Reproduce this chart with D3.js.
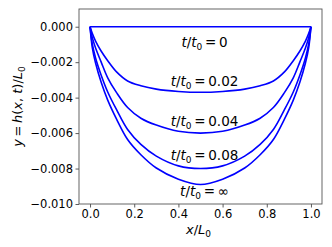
<!DOCTYPE html>
<html>
<head>
<meta charset="utf-8">
<script src="https://cdn.jsdelivr.net/npm/d3@7"></script>
<style>
  body { margin: 0; background: #fff; }
  svg { display: block; font-family: "DejaVu Sans", sans-serif; }
</style>
</head>
<body>
<svg id="chart" width="332" height="247"></svg>
<script>
// profile h(x,t)/L0, symmetric about x = 0.5
var xs = [0, 0.01, 0.025, 0.05, 0.08, 0.12, 0.17, 0.23, 0.3, 0.4, 0.5,
          0.6, 0.7, 0.77, 0.83, 0.88, 0.92, 0.95, 0.975, 0.99, 1];

var h_t0 = [0, 0, 0, 0, 0, 0, 0, 0, 0, 0, 0, 0, 0, 0, 0, 0, 0, 0, 0, 0, 0];
var h_t002 = [0, -0.00037, -0.00081, -0.00137, -0.00192, -0.00255, -0.00306, -0.00333, -0.00352, -0.00365, -0.0037,
              -0.00365, -0.00352, -0.00333, -0.00306, -0.00255, -0.00192, -0.00137, -0.00081, -0.00037, 0];
var h_t004 = [0, -0.0006, -0.0012, -0.00198, -0.00288, -0.00372, -0.00456, -0.00516, -0.00555, -0.0059, -0.006,
              -0.0059, -0.00555, -0.00516, -0.00456, -0.00372, -0.00288, -0.00198, -0.0012, -0.0006, 0];
var h_t008 = [0, -0.00096, -0.00176, -0.00272, -0.00368, -0.00468, -0.0058, -0.00664, -0.0073, -0.00785, -0.008,
              -0.00785, -0.0073, -0.00664, -0.0058, -0.00468, -0.00368, -0.00272, -0.00176, -0.00096, 0];
var h_tinf = [0, -0.00116, -0.00205, -0.00312, -0.00414, -0.00521, -0.00636, -0.00722, -0.00797, -0.0086, -0.0089,
              -0.0086, -0.00797, -0.00722, -0.00636, -0.00521, -0.00414, -0.00312, -0.00205, -0.00116, 0];

var series = [h_t0, h_t002, h_t004, h_t008, h_tinf];

// curve labels: text after "t/t0 = " and the y they sit at
var label_vals = ["0", "0.02", "0.04", "0.08", "\u221e"];
var label_y = [-0.00085, -0.00305, -0.00531, -0.00723, -0.00927];

var x_ticks = [0, 0.2, 0.4, 0.6, 0.8, 1.0];
var y_ticks = [0, -0.002, -0.004, -0.006, -0.008, -0.010];

//// LAYOUT ////////////////////////////////////////////////////////////////////

var plot_left = 79, plot_right = 322, plot_top = 9, plot_bottom = 204;
var svg = d3.select("#chart");

var x = d3.scaleLinear().domain([-0.05, 1.05]).range([plot_left, plot_right]);
var y = d3.scaleLinear().domain([-0.010, 0.001]).range([plot_bottom, plot_top]);

var line = d3.line()
    .x(function(d, i) { return x(xs[i]); })
    .y(function(d) { return y(d); })
    .curve(d3.curveCatmullRom.alpha(0.5));

svg.selectAll("path.curve")
    .data(series)
  .enter().append("path")
    .attr("class", "curve")
    .attr("d", line)
    .attr("fill", "none")
    .attr("stroke", "#0000ff")
    .attr("stroke-width", 1.6);

//// AXES //////////////////////////////////////////////////////////////////////

var xAxis = svg.append("g")
    .attr("transform", "translate(0," + plot_bottom + ")")
    .call(d3.axisBottom(x).tickValues(x_ticks).tickFormat(d3.format(".1f")).tickSizeOuter(0).tickSize(3.5));

var yAxis = svg.append("g")
    .attr("transform", "translate(" + plot_left + ",0)")
    .call(d3.axisLeft(y).tickValues(y_ticks).tickFormat(d3.format(".3f")).tickSizeOuter(0).tickSize(3.5));

[xAxis, yAxis].forEach(function(a) {
    a.select(".domain").remove();
    a.selectAll("line").attr("stroke", "#333").attr("stroke-width", 0.8);
    a.selectAll("text").attr("fill", "#000").style("font-size", "11.5px")
        .style("font-family", "DejaVu Sans");
});
yAxis.selectAll("text").attr("x", -6);
xAxis.selectAll("text").attr("y", 6);

svg.append("rect")
    .attr("x", plot_left).attr("y", plot_top)
    .attr("width", plot_right - plot_left).attr("height", plot_bottom - plot_top)
    .attr("fill", "none").attr("stroke", "#555").attr("stroke-width", 0.9);

//// TEXT //////////////////////////////////////////////////////////////////////

function sub0(sel) {
    sel.append("tspan").attr("dy", 3).style("font-size", "9px").text("0");
}

label_vals.forEach(function(v, i) {
    var t = svg.append("text")
        .attr("x", x(0.5) + 4)
        .attr("y", y(label_y[i]) + 5)
        .attr("text-anchor", "middle")
        .style("font-size", "13.5px");
    t.append("tspan").style("font-style", "italic").text("t");
    t.append("tspan").text("/");
    t.append("tspan").style("font-style", "italic").text("t");
    sub0(t);
    t.append("tspan").attr("dy", -3).text("\u2009=\u2009" + v);
});

var xl = svg.append("text")
    .attr("x", x(0.5) - 2).attr("y", 234)
    .attr("text-anchor", "middle")
    .style("font-size", "13px");
xl.append("tspan").style("font-style", "italic").text("x");
xl.append("tspan").text("/");
xl.append("tspan").style("font-style", "italic").text("L");
sub0(xl);

var yl = svg.append("text")
    .attr("transform", "translate(22," + ((plot_top + plot_bottom) / 2) + ") rotate(-90)")
    .attr("text-anchor", "middle")
    .style("font-size", "13px");
yl.append("tspan").style("font-style", "italic").text("y");
yl.append("tspan").text("\u2009=\u2009");
yl.append("tspan").style("font-style", "italic").text("h");
yl.append("tspan").text("(");
yl.append("tspan").style("font-style", "italic").text("x");
yl.append("tspan").text(", ");
yl.append("tspan").style("font-style", "italic").text("t");
yl.append("tspan").text(")/");
yl.append("tspan").style("font-style", "italic").text("L");
sub0(yl);
</script>
</body>
</html>
